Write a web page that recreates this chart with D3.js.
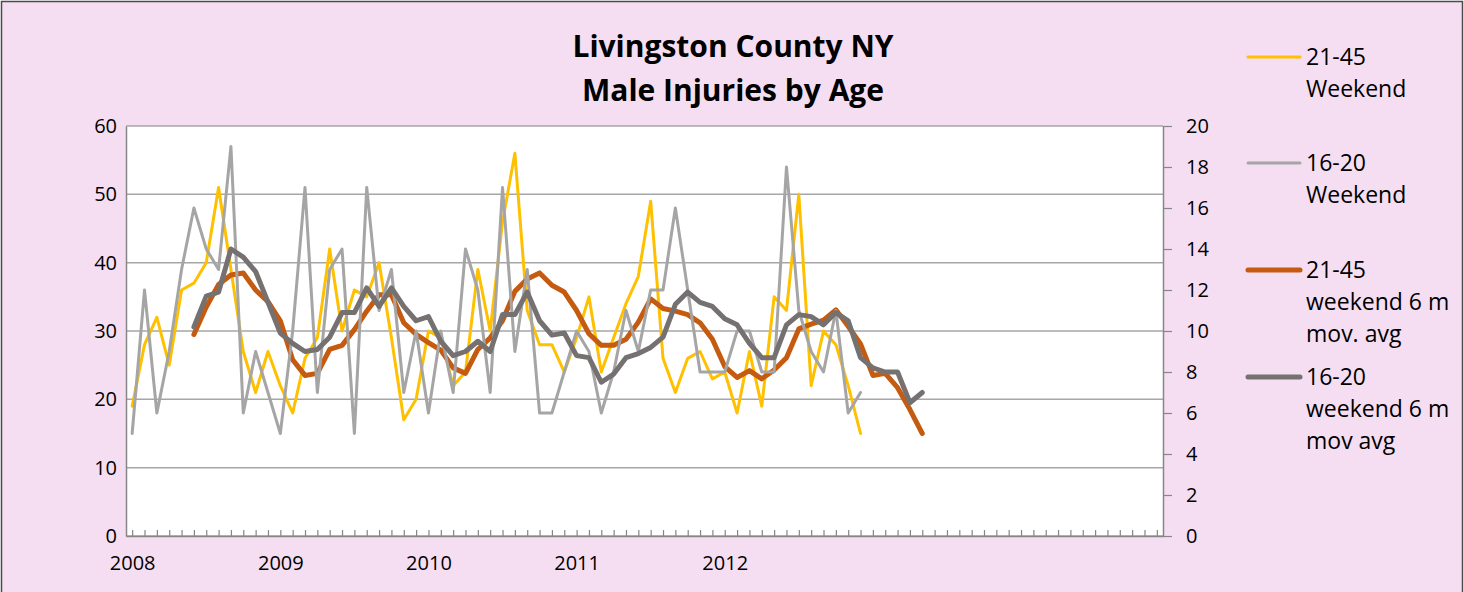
<!DOCTYPE html>
<html>
<head>
<meta charset="utf-8">
<script src="https://cdn.jsdelivr.net/npm/d3@7"></script>
<style>
  body { margin: 0; background: #fff; }
  svg { display: block; font-family: "Open Sans", "Noto Sans", sans-serif; }
</style>
</head>
<body>
<div id="chart"></div>
<script>
var svgWidth = 1464;
var svgHeight = 592;

// plot area inside the pink frame
var plot = { left: 126, right: 1163, top: 126, bottom: 536 };

// 84 monthly slots on the category axis (2008 - 2014), year label every 12th
var monthCount = 84;
var categories = d3.range(monthCount);
var yearLabels = ["2008", "2009", "2010", "2011", "2012"];

// 21-45 weekend, monthly counts (left axis), Jan 2008 - Dec 2012
var weekend2145 = [19, 28, 32, 25, 36, 37, 40, 51, 39, 27, 21, 27,
    22, 18, 26, 29, 42, 30, 36, 35, 40, 29, 17, 20,
    30, 29, 22, 24, 39, 30, 46, 56, 33, 28, 28, 24,
    29, 35, 24, 29, 34, 38, 49, 26, 21, 26, 27, 23,
    24, 18, 27, 19, 35, 33, 50, 22, 30, 28, 22, 15];

// 16-20 weekend, monthly counts (right axis)
var weekend1620 = [5, 12, 6, 9, 13, 16, 14, 13, 19, 6, 9, 7,
    5, 10, 17, 7, 13, 14, 5, 17, 11, 13, 7, 10,
    6, 10, 7, 14, 12, 7, 17, 9, 13, 6, 6, 8,
    10, 9, 6, 8, 11, 9, 12, 12, 16, 12, 8, 8,
    8, 10, 10, 8, 8, 18, 11, 9, 8, 11, 6, 7];

// 6 month moving averages start at month 6 (index 5)
var maStart = 5;
var ma2145 = [29.5, 33.5, 36.8, 38.2, 38.5, 36, 34.3, 31.5, 25.8, 23.5,
    23.8, 27.3, 27.9, 30.2, 32.9, 35.3, 35.3, 31.2, 29.5, 28.3,
    27.2, 24.6, 23.8, 27.3, 29, 31.5, 35.8, 37.6, 38.5, 36.7,
    35.7, 33, 29.6, 27.9, 27.9, 28.8, 31.3, 34.7, 33.3, 32.9,
    32.4, 31.2, 28.8, 24.8, 23.2, 24.2, 23, 24.3, 26.1, 30.3,
    31, 31.6, 33.1, 30.7, 28.1, 23.5, 23.8, 21.7, 18.5, 15];

var ma1620 = [10.2, 11.7, 11.9, 14, 13.6, 12.9, 11.4, 9.9, 9.4, 9,
    9.1, 9.7, 10.9, 10.9, 12.1, 11.2, 12.1, 11.2, 10.5, 10.7,
    9.5, 8.8, 9, 9.5, 9, 10.8, 10.8, 11.9, 10.5, 9.8,
    9.9, 8.8, 8.7, 7.5, 7.9, 8.7, 8.9, 9.2, 9.7, 11.3,
    11.9, 11.4, 11.2, 10.6, 10.3, 9.4, 8.7, 8.7, 10.3, 10.8,
    10.7, 10.3, 10.9, 10.5, 8.7, 8.2, 8, 8, 6.5, 7];

var leftTicks = [0, 10, 20, 30, 40, 50, 60];
var rightTicks = [0, 2, 4, 6, 8, 10, 12, 14, 16, 18, 20];

var legendItems = [
    { lines: ["21-45", "Weekend"], color: "#FFC000", width: 3, y: 57 },
    { lines: ["16-20", "Weekend"], color: "#A5A5A5", width: 3, y: 163 },
    { lines: ["21-45", "weekend 6 m", "mov. avg"], color: "#C55A11", width: 5, y: 270 },
    { lines: ["16-20", "weekend 6 m", "mov avg"], color: "#767171", width: 5, y: 377 }
];

var svg = d3.select("#chart")
    .append("svg")
    .attr("width", svgWidth)
    .attr("height", svgHeight);

// pink chart background with dark frame
svg.append("rect")
    .attr("x", 1.5)
    .attr("y", 1.5)
    .attr("width", svgWidth - 3)
    .attr("height", svgHeight + 10)
    .attr("fill", "#F5DEF1")
    .attr("stroke", "#4a4a4a")
    .attr("stroke-width", 1.5);

svg.append("rect")
    .attr("x", plot.left)
    .attr("y", plot.top)
    .attr("width", plot.right - plot.left)
    .attr("height", plot.bottom - plot.top)
    .attr("fill", "#ffffff");

var xScale = d3.scalePoint()
    .domain(categories)
    .range([plot.left, plot.right])
    .padding(0.5);

var yLeft = d3.scaleLinear()
    .domain([0, 60])
    .range([plot.bottom, plot.top]);

var yRight = d3.scaleLinear()
    .domain([0, 20])
    .range([plot.bottom, plot.top]);

// gridlines
svg.append("g")
    .selectAll("line")
    .data(leftTicks)
    .enter()
    .append("line")
    .attr("x1", plot.left)
    .attr("x2", plot.right)
    .attr("y1", d => yLeft(d))
    .attr("y2", d => yLeft(d))
    .attr("stroke", "#A6A6A6")
    .attr("stroke-width", 1.5);

var leftAxis = svg.append("g")
    .attr("transform", `translate(${plot.left}, 0)`)
    .call(d3.axisLeft(yLeft).tickValues(leftTicks).tickSize(0).tickPadding(9));

var rightAxis = svg.append("g")
    .attr("transform", `translate(${plot.right}, 0)`)
    .call(d3.axisRight(yRight).tickValues(rightTicks).tickSizeInner(9).tickSizeOuter(0).tickPadding(14));

// small inward ticks at every month
var monthAxis = svg.append("g")
    .attr("transform", `translate(0, ${plot.bottom})`)
    .call(d3.axisBottom(xScale).tickSizeInner(-6).tickSizeOuter(0).tickFormat(""));

var yearAxis = svg.append("g")
    .attr("transform", `translate(0, ${plot.bottom})`)
    .call(d3.axisBottom(xScale)
        .tickValues(yearLabels.map((d, i) => i * 12))
        .tickSize(0)
        .tickPadding(20)
        .tickFormat((d, i) => yearLabels[i]));
yearAxis.select(".domain").remove();

[leftAxis, rightAxis, monthAxis].forEach(function (ax) {
    ax.select(".domain").attr("stroke", "#868686").attr("stroke-width", 1.5);
    ax.selectAll(".tick line").attr("stroke", "#868686").attr("stroke-width", 1.2);
});

svg.selectAll(".tick text")
    .attr("fill", "#000")
    .style("font-size", "20px")
    .style("font-family", "'Open Sans', sans-serif");

var lineLeft = d3.line()
    .x(d => xScale(d.i))
    .y(d => yLeft(d.v));

var lineRight = d3.line()
    .x(d => xScale(d.i))
    .y(d => yRight(d.v));

function toPoints(values, start) {
    return values.map((v, k) => ({ i: k + start, v: v }));
}

function drawSeries(values, start, lineGen, color, width) {
    svg.append("path")
        .datum(toPoints(values, start))
        .attr("d", lineGen)
        .attr("fill", "none")
        .attr("stroke", color)
        .attr("stroke-width", width)
        .attr("stroke-linejoin", "round")
        .attr("stroke-linecap", "round");
}

drawSeries(weekend2145, 0, lineLeft, "#FFC000", 3);
drawSeries(ma2145, maStart, lineLeft, "#C55A11", 5);
drawSeries(weekend1620, 0, lineRight, "#A5A5A5", 3);
drawSeries(ma1620, maStart, lineRight, "#767171", 5);

// title
var title = svg.append("text")
    .attr("text-anchor", "middle")
    .attr("fill", "#000")
    .style("font-weight", "bold")
    .style("font-size", "30px");

title.append("tspan").attr("x", 733).attr("y", 57).text("Livingston County NY");
title.append("tspan").attr("x", 733).attr("y", 101).text("Male Injuries by Age");

// legend
var legend = svg.append("g");

legendItems.forEach(function (item) {
    legend.append("line")
        .attr("x1", 1248)
        .attr("x2", 1300)
        .attr("y1", item.y)
        .attr("y2", item.y)
        .attr("stroke", item.color)
        .attr("stroke-width", item.width)
        .attr("stroke-linecap", "round");

    var t = legend.append("text")
        .attr("fill", "#000")
        .style("font-size", "23px");

    item.lines.forEach(function (s, k) {
        t.append("tspan")
            .attr("x", 1306)
            .attr("y", item.y + 8 + k * 32)
            .text(s);
    });
});
</script>
</body>
</html>
